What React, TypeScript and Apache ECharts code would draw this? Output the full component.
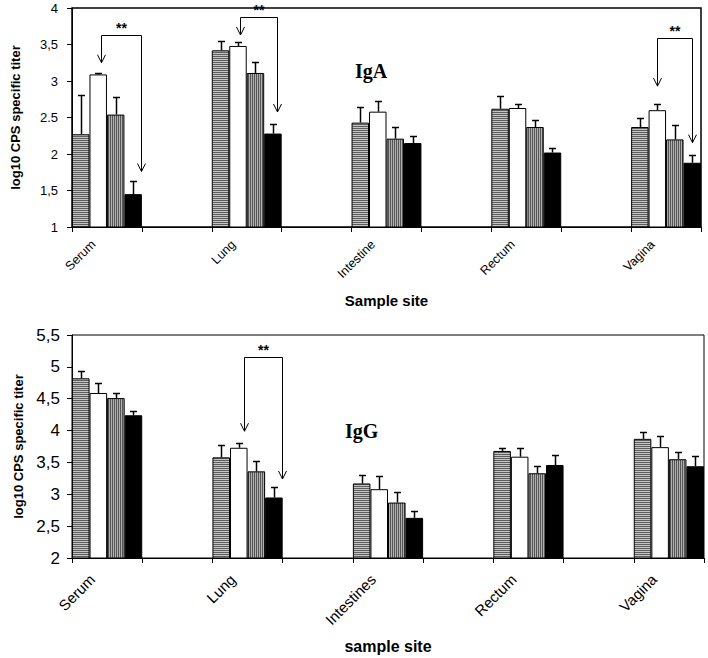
import React, { useEffect, useRef } from "react";
import * as echarts from "echarts";

// ---------- data ----------
const igaSites = ["Serum", "Lung", "Intestine", "Rectum", "Vagina"];
const iggSites = ["Serum", "Lung", "Intestines", "Rectum", "Vagina"];

// IgA: bar means and upper end of error bar, one array per group (4 groups)
const igaG1 = [2.27, 3.42, 2.43, 2.62, 2.37];
const igaG1Top = [2.81, 3.55, 2.65, 2.79, 2.5];
const igaG2 = [3.09, 3.48, 2.58, 2.63, 2.6];
const igaG2Top = [3.11, 3.54, 2.73, 2.68, 2.69];
const igaG3 = [2.54, 3.11, 2.21, 2.37, 2.2];
const igaG3Top = [2.78, 3.26, 2.37, 2.46, 2.4];
const igaG4 = [1.45, 2.28, 2.15, 2.02, 1.88];
const igaG4Top = [1.63, 2.41, 2.24, 2.08, 1.99];

// IgG
const iggG1 = [4.82, 3.58, 3.17, 3.68, 3.87];
const iggG1Top = [4.93, 3.78, 3.3, 3.73, 3.97];
const iggG2 = [4.59, 3.73, 3.08, 3.59, 3.74];
const iggG2Top = [4.75, 3.81, 3.28, 3.72, 3.91];
const iggG3 = [4.51, 3.36, 2.87, 3.33, 3.55];
const iggG3Top = [4.59, 3.53, 3.03, 3.45, 3.66];
const iggG4 = [4.24, 2.95, 2.63, 3.46, 3.44];
const iggG4Top = [4.31, 3.12, 2.74, 3.62, 3.6];

// tick labels
const igaTickLabels = ["1", "1,5", "2", "2.5", "3", "3,5", "4"];
const iggTickLabels = ["2", "2,5", "3", "3,5", "4", "4,5", "5", "5,5"];

// significance brackets: site index, bracket line level, arrow tip levels
const igaSigSite = [0, 1, 4];
const igaSigLine = [3.63, 3.88, 3.585];
const igaSigFromTip = [3.25, 3.63, 2.93];
const igaSigToTip = [1.76, 2.575, 2.155];
const igaSigFromPos = [1.66, 1.6, 1.5];
const igaSigToPos = [3.94, 3.72, 3.5];

const iggSigSite = [1];
const iggSigLine = [5.15];
const iggSigFromTip = [3.99];
const iggSigToTip = [3.24];
const iggSigFromPos = [1.82];
const iggSigToPos = [3.98];

// ---------- helpers ----------
const FONT = "Liberation Sans, Arial, sans-serif";

function stripe(horizontal: boolean, dark: string, light: string) {
  const c = document.createElement("canvas");
  c.width = 4;
  c.height = 4;
  const ctx = c.getContext("2d")!;
  ctx.fillStyle = light;
  ctx.fillRect(0, 0, 4, 4);
  ctx.fillStyle = dark;
  for (let i = 0; i < 4; i += 2) {
    if (horizontal) ctx.fillRect(0, i, 4, 1);
    else ctx.fillRect(i, 0, 1, 4);
  }
  return { image: c.toDataURL(), repeat: "repeat" } as any;
}

const slotsOf = (sites: string[]) => {
  const out: string[] = [];
  sites.forEach((s, i) => {
    out.push(s);
    if (i < sites.length - 1) out.push("");
  });
  return out;
};
const spread = (vals: number[]) => {
  const out: any[] = [];
  vals.forEach((v, i) => {
    out.push(v);
    if (i < vals.length - 1) out.push("-");
  });
  return out;
};

export default function App() {
  const ref = useRef<HTMLDivElement>(null);

  useEffect(() => {
    document.body.style.margin = "0";
    const chart = echarts.init(ref.current!, null, { renderer: "svg" });

    const fills = [
      stripe(true, "#5e5e5e", "#c4c4c4"),
      "#ffffff",
      stripe(false, "#555555", "#b0b0b0"),
      "#000000",
    ];

    const barSeries = (grid: number, gi: number, vals: number[]) => ({
      type: "bar",
      xAxisIndex: grid,
      yAxisIndex: grid,
      data: spread(vals),
      barGap: "0%",
      barCategoryGap: "0%",
      clip: true,
      itemStyle: { color: fills[gi], borderColor: "#000", borderWidth: 1 },
      z: 2,
    });

    const errSeries = (grid: number, gi: number, vals: number[], tops: number[]) => ({
      type: "custom",
      xAxisIndex: grid,
      yAxisIndex: grid,
      z: 5,
      data: vals.map((m, i) => [i * 2, m, tops[i]]),
      encode: { x: 0, y: [1, 2] },
      renderItem: (_p: any, api: any) => {
        const slot = api.value(0);
        const c = api.coord([slot, api.value(1)]);
        const t = api.coord([slot, api.value(2)]);
        const slotW = api.size([1, 0])[0];
        const bw = slotW / 4;
        const x = Math.round(c[0] - slotW / 2 + (gi + 0.5) * bw) + 0.5;
        const ty = Math.round(t[1]) + 0.5;
        return {
          type: "group",
          children: [
            { type: "line", shape: { x1: x, y1: c[1], x2: x, y2: ty }, style: { stroke: "#000", lineWidth: 1.5 } },
            { type: "line", shape: { x1: x - 3.5, y1: ty, x2: x + 3.5, y2: ty }, style: { stroke: "#000", lineWidth: 1.5 } },
          ],
        };
      },
    });

    const sigSeries = (
      grid: number,
      site: number[],
      line: number[],
      fromTip: number[],
      toTip: number[],
      fromPos: number[],
      toPos: number[]
    ) => ({
      type: "custom",
      xAxisIndex: grid,
      yAxisIndex: grid,
      z: 6,
      data: site.map((s, i) => [s * 2, line[i], fromTip[i], toTip[i], fromPos[i], toPos[i]]),
      encode: { x: 0, y: 1 },
      renderItem: (_p: any, api: any) => {
        const slot = api.value(0);
        const cLine = api.coord([slot, api.value(1)]);
        const cFrom = api.coord([slot, api.value(2)]);
        const cTo = api.coord([slot, api.value(3)]);
        const slotW = api.size([1, 0])[0];
        const bw = slotW / 4;
        const x0 = cLine[0] - slotW / 2;
        const xL = Math.round(x0 + api.value(4) * bw) + 0.5;
        const xR = Math.round(x0 + api.value(5) * bw) + 0.5;
        const yL = Math.round(cLine[1]) + 0.5;
        const st = { stroke: "#000", lineWidth: 1, fill: "none" };
        const head = (x: number, y: number) => ({
          type: "polyline",
          shape: { points: [[x - 4, y - 8], [x, y], [x + 4, y - 8]] },
          style: st,
        });
        return {
          type: "group",
          children: [
            {
              type: "polyline",
              shape: { points: [[xL, cFrom[1]], [xL, yL], [xR, yL], [xR, cTo[1]]] },
              style: st,
            },
            head(xL, cFrom[1]),
            head(xR, cTo[1]),
            {
              type: "text",
              style: {
                text: "**",
                x: (xL + xR) / 2,
                y: yL - 1,
                align: "center",
                verticalAlign: "bottom",
                fontSize: 14,
                fontWeight: "bold",
                fontFamily: FONT,
                fill: "#000",
              },
            },
          ],
        };
      },
    });

    const xAxis = (grid: number, sites: string[], fs: number, name: string, gap: number, nfs: number, margin: number, pad: number) => ({
      type: "category",
      gridIndex: grid,
      data: slotsOf(sites),
      axisLine: { show: true, lineStyle: { color: "#000", width: 1 } },
      axisTick: { show: true, interval: 0, length: 5, lineStyle: { color: "#000" } },
      axisLabel: {
        interval: 0,
        rotate: 45,
        margin,
        padding: [0, pad, 0, 0],
        color: "#000",
        fontSize: fs,
        fontFamily: FONT,
      },
      name,
      nameLocation: "middle",
      nameGap: gap,
      nameTextStyle: { fontSize: nfs, fontWeight: "bold", fontFamily: FONT, color: "#000" },
    });

    const yAxis = (grid: number, min: number, max: number, labels: string[], fs: number, margin: number, gap: number) => ({
      type: "value",
      gridIndex: grid,
      min,
      max,
      interval: 0.5,
      axisLine: { show: true, lineStyle: { color: "#000", width: 1 } },
      axisTick: { show: true, length: 5, lineStyle: { color: "#000" } },
      splitLine: { show: false },
      axisLabel: {
        margin,
        color: "#000",
        fontSize: fs,
        fontFamily: FONT,
        formatter: (v: number) => labels[Math.round((v - min) / 0.5)],
      },
      name: "log10 CPS specific titer",
      nameLocation: "middle",
      nameRotate: 90,
      nameGap: gap,
      nameTextStyle: { fontSize: 13, fontWeight: "bold", fontFamily: FONT, color: "#000" },
    });

    chart.setOption({
      animation: false,
      grid: [
        { left: 72, top: 8, width: 629, height: 219, show: true, borderColor: "#000", borderWidth: 1.5, backgroundColor: "transparent" },
        { left: 72, top: 335, width: 632, height: 223, show: true, borderColor: "#000", borderWidth: 1, backgroundColor: "transparent" },
      ],
      xAxis: [
        xAxis(0, igaSites, 12.5, "Sample site", 66, 15, 2, 19),
        xAxis(1, iggSites, 15, "sample site", 80, 16, 4, 21),
      ],
      yAxis: [
        yAxis(0, 1, 4, igaTickLabels, 13, 14, 50),
        yAxis(1, 2, 5.5, iggTickLabels, 17, 12, 46),
      ],
      graphic: [
        { type: "text", left: 355, top: 61, style: { text: "IgA", fontSize: 20, fontWeight: "bold", fontFamily: "Liberation Serif, Times New Roman, serif", fill: "#000" } },
        { type: "text", left: 345, top: 421, style: { text: "IgG", fontSize: 20, fontWeight: "bold", fontFamily: "Liberation Serif, Times New Roman, serif", fill: "#000" } },
      ],
      series: [
        barSeries(0, 0, igaG1),
        barSeries(0, 1, igaG2),
        barSeries(0, 2, igaG3),
        barSeries(0, 3, igaG4),
        errSeries(0, 0, igaG1, igaG1Top),
        errSeries(0, 1, igaG2, igaG2Top),
        errSeries(0, 2, igaG3, igaG3Top),
        errSeries(0, 3, igaG4, igaG4Top),
        sigSeries(0, igaSigSite, igaSigLine, igaSigFromTip, igaSigToTip, igaSigFromPos, igaSigToPos),
        barSeries(1, 0, iggG1),
        barSeries(1, 1, iggG2),
        barSeries(1, 2, iggG3),
        barSeries(1, 3, iggG4),
        errSeries(1, 0, iggG1, iggG1Top),
        errSeries(1, 1, iggG2, iggG2Top),
        errSeries(1, 2, iggG3, iggG3Top),
        errSeries(1, 3, iggG4, iggG4Top),
        sigSeries(1, iggSigSite, iggSigLine, iggSigFromTip, iggSigToTip, iggSigFromPos, iggSigToPos),
      ],
    });

    return () => chart.dispose();
  }, []);

  return <div ref={ref} style={{ width: 708, height: 658, background: "#fff" }} />;
}
